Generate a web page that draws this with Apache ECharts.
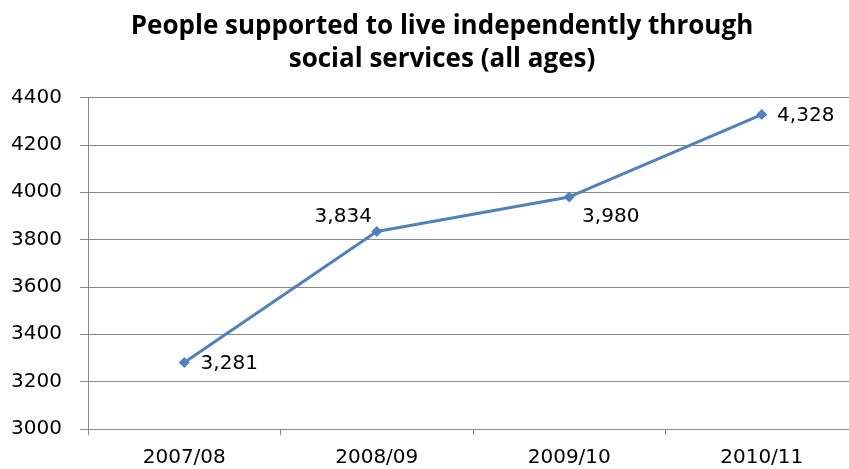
<!DOCTYPE html>
<html>
<head>
<meta charset="utf-8">
<script src="https://cdn.jsdelivr.net/npm/echarts@6/dist/echarts.min.js"></script>
<style>
  html, body { margin: 0; padding: 0; background: #fff; overflow: hidden; }
  /* canvas is a little wider than the window so the last category runs off the edge */
  #chart { width: 858px; height: 469px; }
</style>
</head>
<body>
<div id="chart"></div>
<script>
// Fiscal years on the category axis
const years = ['2007/08', '2008/09', '2009/10', '2010/11'];
// Number of people supported to live independently
const supported = [3281, 3834, 3980, 4328];
// Value axis range
const yMin = 3000;
const yMax = 4400;
const yStep = 200;

// Offset of each value label from the centre of its point
const labelOffsets = [
  [45, 1.5],
  [-33.5, -14.5],
  [41.5, 20],
  [44, 1]
];

const chart = echarts.init(document.getElementById('chart'));
const font = 'DejaVu Sans';

chart.setOption({
  animation: false,
  backgroundColor: '#ffffff',
  title: {
    text: 'People supported to live independently through\nsocial services (all ages)',
    left: 437,
    textAlign: 'center',
    top: 5,
    textStyle: {
      fontFamily: 'Open Sans',
      fontWeight: 'bold',
      fontSize: 26,
      lineHeight: 33,
      color: '#000'
    }
  },
  grid: { left: 88, right: 0, top: 97.5, bottom: 40 },
  xAxis: {
    type: 'category',
    data: years,
    boundaryGap: true,
    axisLine: { lineStyle: { color: '#888', width: 1 } },
    axisTick: { show: true, length: 6, lineStyle: { color: '#888' } },
    axisLabel: { color: '#000', fontFamily: font, fontSize: 20, margin: 19 }
  },
  yAxis: {
    type: 'value',
    min: yMin,
    max: yMax,
    interval: yStep,
    axisLine: { show: true, lineStyle: { color: '#888', width: 1 } },
    axisTick: { show: true, length: 8, lineStyle: { color: '#888' } },
    axisLabel: { color: '#000', fontFamily: font, fontSize: 20, margin: 26, formatter: v => String(v) },
    splitLine: { lineStyle: { color: '#888', width: 1 } }
  },
  series: [{
    type: 'line',
    data: supported.map((v, i) => ({
      value: v,
      label: { position: 'inside', offset: labelOffsets[i] }
    })),
    symbol: 'diamond',
    symbolSize: 11,
    lineStyle: { color: '#4F81BD', width: 3 },
    itemStyle: { color: '#4F81BD' },
    label: {
      show: true,
      color: '#000',
      fontFamily: font,
      fontSize: 20,
      formatter: p => p.value.toLocaleString('en-US')
    }
  }]
});
</script>
</body>
</html>
